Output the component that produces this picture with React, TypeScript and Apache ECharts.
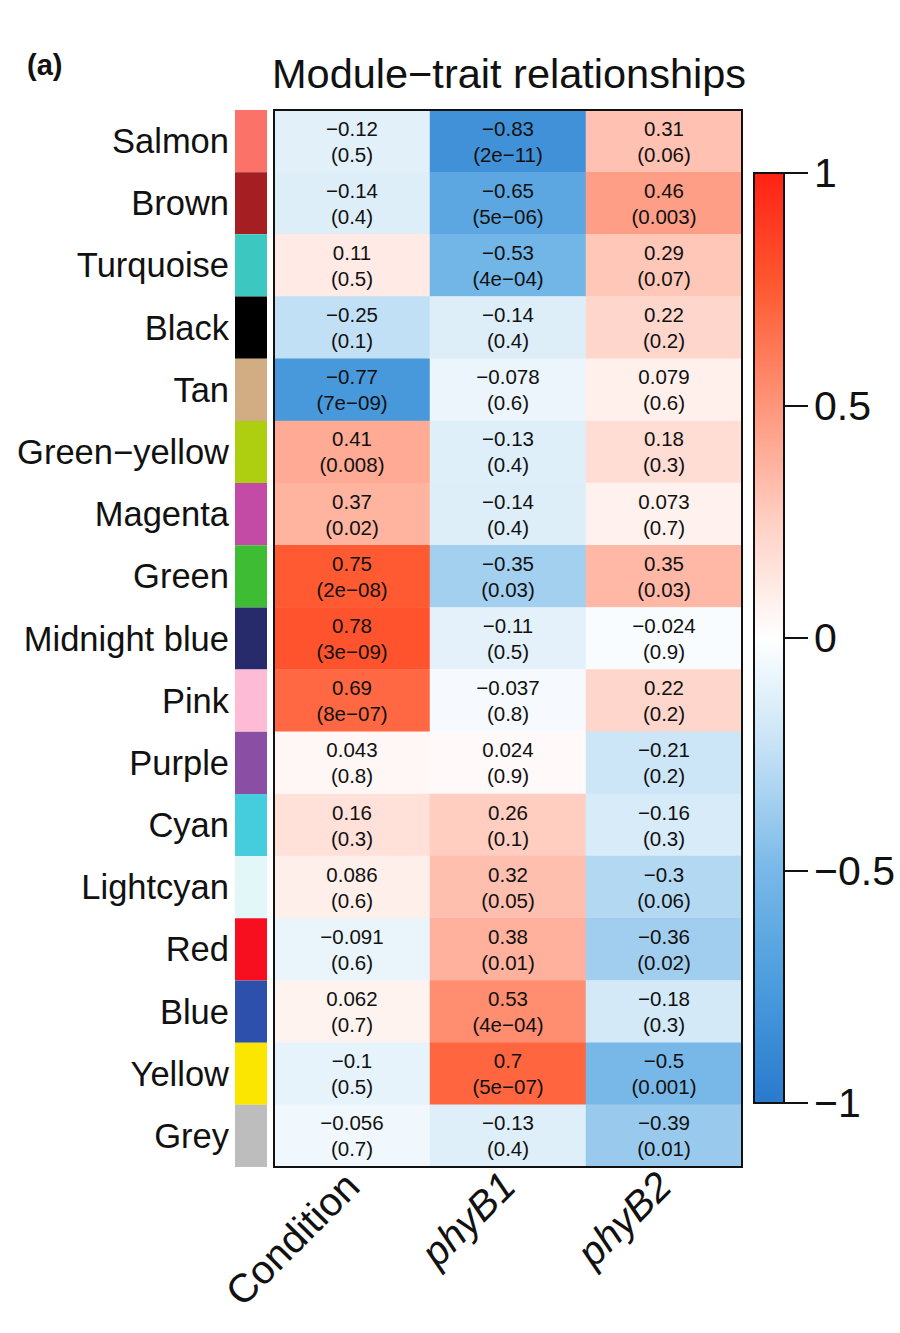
import React, { useEffect, useRef } from "react";
import * as echarts from "echarts";

const modules = [
  "Salmon", "Brown", "Turquoise", "Black", "Tan", "Green−yellow", "Magenta", "Green",
  "Midnight blue", "Pink", "Purple", "Cyan", "Lightcyan", "Red", "Blue", "Yellow", "Grey",
];
const moduleColors = [
  "#FA7268", "#A51E22", "#3CC8C0", "#000000", "#D2AC82", "#ADCF0F", "#C44BA5", "#3EBD34",
  "#272A6B", "#FDBBD6", "#8A4FA4", "#45CCDD", "#E2F8F8", "#F70F1F", "#2D50AC", "#FAE600", "#BDBDBD",
];
const traits = ["Condition", "phyB1", "phyB2"];

const conditionR = [-0.12, -0.14, 0.11, -0.25, -0.77, 0.41, 0.37, 0.75, 0.78, 0.69, 0.043, 0.16, 0.086, -0.091, 0.062, -0.1, -0.056];
const conditionP = ["0.5", "0.4", "0.5", "0.1", "7e-09", "0.008", "0.02", "2e-08", "3e-09", "8e-07", "0.8", "0.3", "0.6", "0.6", "0.7", "0.5", "0.7"];
const phyB1R = [-0.83, -0.65, -0.53, -0.14, -0.078, -0.13, -0.14, -0.35, -0.11, -0.037, 0.024, 0.26, 0.32, 0.38, 0.53, 0.7, -0.13];
const phyB1P = ["2e-11", "5e-06", "4e-04", "0.4", "0.6", "0.4", "0.4", "0.03", "0.5", "0.8", "0.9", "0.1", "0.05", "0.01", "4e-04", "5e-07", "0.4"];
const phyB2R = [0.31, 0.46, 0.29, 0.22, 0.079, 0.18, 0.073, 0.35, -0.024, 0.22, -0.21, -0.16, -0.3, -0.36, -0.18, -0.5, -0.39];
const phyB2P = ["0.06", "0.003", "0.07", "0.2", "0.6", "0.3", "0.7", "0.03", "0.9", "0.2", "0.2", "0.3", "0.06", "0.02", "0.3", "0.001", "0.01"];

const paletteStops = ["#2A7ACD", "#4A9CDD", "#78B8E8", "#C2E0F5", "#FFFFFF", "#FFD0C4", "#FF957A", "#FF5A32", "#FF2214"];

const FONT = "'Liberation Sans', Arial, Helvetica, sans-serif";
const fmt = (s: string) => s.replace(/-/g, "−");

export default function App() {
  const ref = useRef<HTMLDivElement>(null);
  useEffect(() => {
    if (!ref.current) return;
    const chart = echarts.init(ref.current, undefined, { renderer: "svg" });
    const rs = [conditionR, phyB1R, phyB2R];
    const ps = [conditionP, phyB1P, phyB2P];
    const heat: any[] = [];
    rs.forEach((col, ci) => {
      col.forEach((r, ri) => {
        heat.push({ value: [ci, ri, r], label: { formatter: fmt(String(r)) + "\n(" + fmt(ps[ci][ri]) + ")" } });
      });
    });
    const swatches = moduleColors.map((c) => ({ value: 1, itemStyle: { color: c } }));

    chart.setOption({
      animation: false,
      textStyle: { fontFamily: FONT },
      title: [
        { text: "(a)", left: 22, top: 45, textStyle: { fontSize: 29, fontWeight: "bold", color: "#111", fontFamily: FONT } },
        { text: "Module−trait relationships", left: 267, top: 47, textStyle: { fontSize: 41.5, fontWeight: "normal", color: "#111", fontFamily: FONT } },
      ],
      grid: [
        { left: 274, top: 110, width: 468, height: 1057, show: true, borderColor: "#111", borderWidth: 2, backgroundColor: "transparent", z: 10 },
        { left: 235, top: 110, width: 32, height: 1057 },
        { left: 754, top: 173, width: 30, height: 930, show: true, borderColor: "#111", borderWidth: 2, backgroundColor: "transparent", z: 10 },
      ],
      xAxis: [
        {
          type: "category", gridIndex: 0, data: traits,
          axisLine: { show: false }, axisTick: { show: false }, splitLine: { show: false },
          axisLabel: {
            rotate: 45, margin: 12, fontSize: 40, color: "#111", fontFamily: FONT, interval: 0,
            formatter: (v: string) => (v === "Condition" ? "{n|" + v + "}" : "{i|" + v + "}"),
            rich: {
              n: { fontSize: 40, color: "#111", fontFamily: FONT },
              i: { fontSize: 40, color: "#111", fontFamily: FONT, fontStyle: "italic" },
            },
          },
        },
        { type: "value", gridIndex: 1, min: 0, max: 1, show: false },
        { type: "value", gridIndex: 2, min: 0, max: 1, show: false },
      ],
      yAxis: [
        {
          type: "category", gridIndex: 0, data: modules, inverse: true,
          axisLine: { show: false }, axisTick: { show: false }, splitLine: { show: false },
          axisLabel: { fontSize: 34.5, color: "#111", margin: 45, fontFamily: FONT, interval: 0 },
        },
        { type: "category", gridIndex: 1, data: modules, inverse: true, show: false },
        {
          type: "value", gridIndex: 2, min: -1, max: 1, interval: 0.5, position: "right", z: 12,
          axisLine: { show: true, onZero: false, lineStyle: { color: "#111", width: 2 } },
          axisTick: { show: true, inside: false, length: 24, lineStyle: { color: "#111", width: 2 } },
          splitLine: { show: false },
          axisLabel: {
            fontSize: 41, color: "#111", margin: 30, fontFamily: FONT,
            formatter: (v: number) => fmt(String(v)),
          },
        },
      ],
      visualMap: {
        type: "continuous", min: -1, max: 1, seriesIndex: 0, left: 754, top: 173,
        itemWidth: 30, itemHeight: 930, padding: 0, calculable: false, text: ["", ""],
        inRange: { color: paletteStops }, z: 5,
      },
      series: [
        {
          type: "heatmap", xAxisIndex: 0, yAxisIndex: 0, data: heat,
          itemStyle: { borderWidth: 0 },
          label: { show: true, fontSize: 20.5, lineHeight: 26, color: "#111", fontFamily: FONT },
          emphasis: { disabled: true },
        },
        {
          type: "bar", xAxisIndex: 1, yAxisIndex: 1, data: swatches, barWidth: "100%",
          silent: true,
        },
        {
          type: "line", xAxisIndex: 2, yAxisIndex: 2, data: [], silent: true,
        },
      ],
    });
    return () => chart.dispose();
  }, []);
  return <div ref={ref} style={{ position: "absolute", left: 0, top: 0, width: 900, height: 1333 }} />;
}
